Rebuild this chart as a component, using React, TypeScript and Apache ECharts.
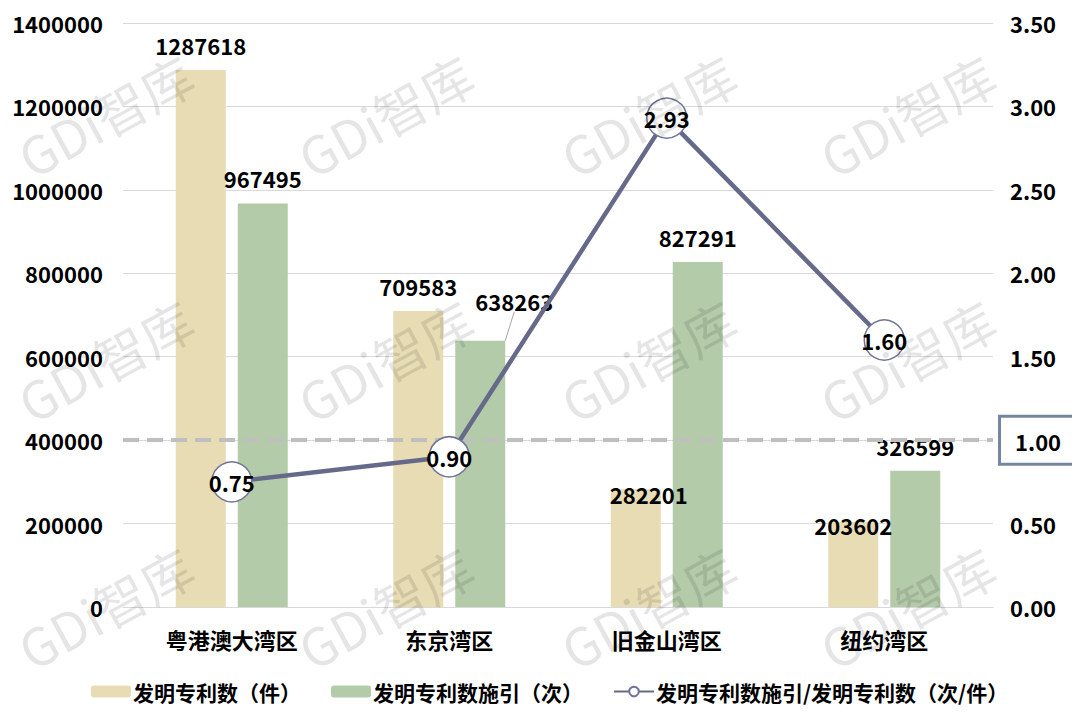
import React, { useEffect, useRef } from "react";
import * as echarts from "echarts";

const categories = ["粤港澳大湾区", "东京湾区", "旧金山湾区", "纽约湾区"];
const patents = [1287618, 709583, 282201, 203602];
const citations = [967495, 638263, 827291, 326599];
const ratio = [0.75, 0.9, 2.93, 1.6];
const leftTicks = { min: 0, max: 1400000, interval: 200000 };
const rightTicks = { min: 0, max: 3.5, interval: 0.5 };
const refValue = 1.0;
const seriesNames = ["发明专利数（件）", "发明专利数施引（次）", "发明专利数施引/发明专利数（次/件）"];

const FONT = "'Noto Sans CJK SC', 'Noto Sans', sans-serif";

export default function App() {
  const ref = useRef<HTMLDivElement>(null);
  useEffect(() => {
    if (!ref.current) return;
    const chart = echarts.init(ref.current, undefined, { renderer: "svg" });
    const lbl = { fontFamily: FONT, fontWeight: "bold", fontSize: 22, color: "#000" };

    const wmCols = [105, 385, 648, 907];
    const wmRows = [115, 360, 607];
    const watermarks: any[] = [];
    wmRows.forEach((y) =>
      wmCols.forEach((x) =>
        watermarks.push({
          type: "text",
          x,
          y,
          rotation: 0.5,
          z: 100,
          silent: true,
          style: {
            text: "GDi智库",
            font: `52px ${FONT}`,
            fill: "rgba(0,0,0,0.1)",
            align: "center",
            verticalAlign: "middle",
          },
        })
      )
    );

    chart.setOption({
      animation: false,
      backgroundColor: "#fff",
      textStyle: { fontFamily: FONT },
      grid: { left: 123, right: 87, top: 23, bottom: 114, containLabel: false },
      legend: {
        left: 86,
        top: 676,
        itemWidth: 40,
        itemHeight: 12,
        itemGap: 30,
        textStyle: { ...lbl, fontSize: 21, padding: [0, 0, 0, -3] },
        data: seriesNames,
      },
      xAxis: {
        type: "category",
        data: categories,
        axisTick: { show: false },
        axisLine: { lineStyle: { color: "#d9d9d9", width: 1 } },
        axisLabel: { ...lbl, margin: 21 },
      },
      yAxis: [
        {
          type: "value",
          ...leftTicks,
          axisLabel: { ...lbl, margin: 20, formatter: (v: number) => String(v) },
          splitLine: { lineStyle: { color: "#d9d9d9", width: 1 } },
          axisLine: { show: false },
          axisTick: { show: false },
        },
        {
          type: "value",
          ...rightTicks,
          position: "right",
          splitLine: { show: false },
          axisLine: { show: false },
          axisTick: { show: false },
          axisLabel: {
            margin: 8,
            formatter: (v: number) =>
              Math.abs(v - refValue) < 1e-9 ? `{box|${v.toFixed(2)}}` : `{n|${v.toFixed(2)}}`,
            rich: {
              n: { ...lbl, padding: [0, 0, 0, 9] },
              box: {
                ...lbl,
                borderColor: "#7586a0",
                borderWidth: 3,
                padding: [12, 11, 11, 14],
                backgroundColor: "#fff",
              },
            },
          },
        },
      ],
      series: [
        {
          name: seriesNames[0],
          type: "bar",
          barWidth: 50,
          barGap: "24%",
          itemStyle: { color: "#E7DCB4" },
          label: { show: true, position: "top", distance: 14, ...lbl },
          data: patents.map((v, i) =>
            i === 2
              ? { value: v, label: { offset: [13, 30] } }
              : i === 3
              ? { value: v, label: { offset: [0, 28] } }
              : v
          ),
        },
        {
          name: seriesNames[1],
          type: "bar",
          barWidth: 50,
          itemStyle: { color: "#B4CBAA" },
          label: { show: true, position: "top", distance: 14, ...lbl },
          labelLine: { show: false },
          labelLayout: (p: any) => (p.dataIndex === 1 ? { dx: 34, dy: -15 } : {}),
          data: citations.map((v, i) =>
            i === 1
              ? { value: v, labelLine: { show: true, lineStyle: { color: "#a6a6a6", width: 1 } } }
              : v
          ),
        },
        {
          name: seriesNames[2],
          type: "line",
          yAxisIndex: 1,
          symbol: "circle",
          symbolSize: 40,
          z: 5,
          lineStyle: { color: "#666A8A", width: 4.5 },
          itemStyle: { color: "#fff", borderColor: "#6f7396", borderWidth: 1.5 },
          label: {
            show: true,
            position: "inside",
            ...lbl,
            formatter: (p: any) => Number(p.value).toFixed(2),
          },
          markLine: {
            silent: true,
            symbol: ["none", "none"],
            label: { show: false },
            lineStyle: { color: "#bfbfbf", type: [16, 8], width: 4 },
            data: [{ yAxis: refValue }],
          },
          data: ratio,
        },
      ],
      graphic: watermarks,
    });
    return () => chart.dispose();
  }, []);
  return <div ref={ref} style={{ width: 1080, height: 721, margin: -8 }} />;
}
